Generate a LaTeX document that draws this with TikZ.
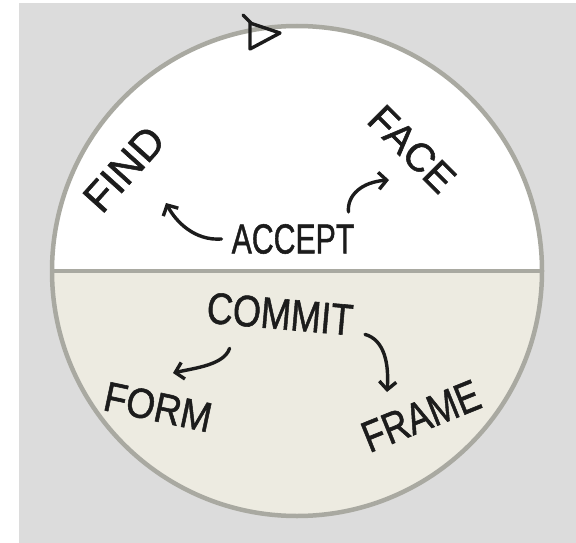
\documentclass[tikz,border=0pt]{standalone}
\usepackage{fontspec}
\setmainfont{Liberation Sans}
\newfontfamily\handfont{Liberation Sans}[FakeBold=1.3]
\usetikzlibrary{arrows.meta}
\definecolor{bg}{HTML}{DCDCDC}
\definecolor{rim}{HTML}{A9A9A1}
\definecolor{paper}{HTML}{EDEBE1}
\definecolor{ink}{HTML}{1C1C1C}
\begin{document}
\begin{tikzpicture}[x=1pt,y=-1pt,
    word/.style={font=\handfont\fontsize{42}{44}\selectfont,text=ink,inner sep=0pt,transform shape},
    flow/.style={draw=ink,line width=3.4pt,line cap=round,-{Straight Barb[length=8pt,width=17pt,line width=3.4pt]}}]
    \useasboundingbox (0,0) rectangle (576,543);
    \fill[white] (0,0) rectangle (576,543);
    \fill[bg] (19,3) rectangle (576,543);
    \coordinate (O) at (297,271);
    \fill[white] (O) circle[radius=245pt];
    \begin{scope}
      \clip (O) circle[radius=245pt];
      \fill[paper] (40,271) rectangle (560,530);
    \end{scope}
    \draw[rim,line width=3.5pt] (52,271)--(542,271);
    \draw[rim,line width=4.5pt] (O) circle[radius=245pt];
    \draw[ink,line width=3.4pt,line join=round] (250,23)--(280,33)--(250,49)--cycle;
    \draw[ink,line width=3.4pt,line cap=round] (243,15)--(251,23);
    \node[word,xscale=0.72] (accept) at (293,239) {ACCEPT};
    \node[word,rotate=48] (find) at (124,169) {FIND};
    \node[word,font=\handfont\fontsize{40}{42}\selectfont,rotate=-45] (face) at (412,149) {FACE};
    \node[word,font=\handfont\fontsize{44}{46}\selectfont,rotate=-5,xscale=0.82] (commit) at (280,314) {COMMIT};
    \node[word,rotate=-12,xscale=0.88] (form) at (158,407) {FORM};
    \node[word,font=\handfont\fontsize{44}{46}\selectfont,rotate=22,xscale=0.8] (frame) at (421,416) {FRAME};
    \coordinate (findtip) at (166,203);
    \coordinate (facetip) at (389,180);
    \coordinate (formtip) at (173,373);
    \coordinate (frametip) at (387,392);
    \draw[flow] ([xshift=-10pt]accept.west) .. controls (195,241) and (176,222) .. (findtip);
    \draw[flow] ([xshift=-6pt,yshift=12pt]accept.north east) .. controls (347,195) and (362,182) .. (facetip);
    \draw[flow] ([xshift=24pt,yshift=-25pt]commit.south west) .. controls (224,365) and (195,368) .. (formtip);
    \draw[flow] ([xshift=12pt,yshift=-14pt]commit.east) .. controls (385,340) and (389,365) .. (frametip);
\end{tikzpicture}
\end{document}
